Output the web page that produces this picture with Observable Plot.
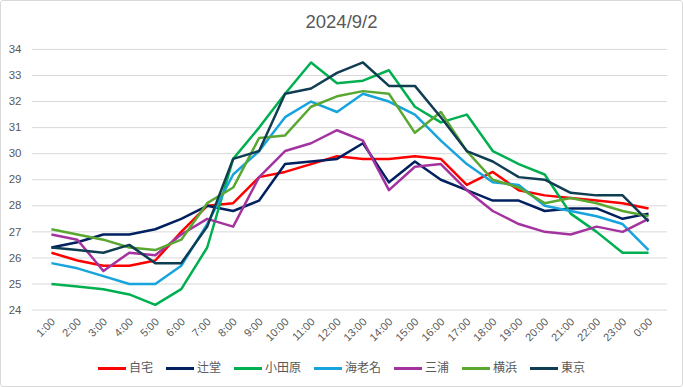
<!DOCTYPE html>
<html><head><meta charset="utf-8">
<script src="https://cdn.jsdelivr.net/npm/d3@7"></script>
<script src="https://cdn.jsdelivr.net/npm/@observablehq/plot@0.6"></script>
<style>
body{margin:0;background:#fff;}
#chart{position:relative;width:683px;height:387px;box-sizing:border-box;border:1px solid #d9d9d9;border-radius:3px;overflow:hidden;font-family:"Liberation Sans","Noto Sans CJK JP",sans-serif;background:#fff;}
#title{position:absolute;left:0;right:0;top:12px;text-align:center;font-size:18.5px;line-height:1;color:#595959;}
#plot{position:absolute;left:-1px;top:-1px;}
#legend{position:absolute;left:0;right:0;top:360px;display:flex;justify-content:center;gap:13px;font-size:12px;line-height:14px;color:#595959;}
.item{display:flex;align-items:center;gap:3px;}
.sw{width:28px;height:3px;}
</style>
</head><body>
<div id="chart"><div id="plot"></div><div id="title">2024/9/2</div><div id="legend"></div></div>
<script>
const hours = ["1:00","2:00","3:00","4:00","5:00","6:00","7:00","8:00","9:00","10:00","11:00","12:00","13:00","14:00","15:00","16:00","17:00","18:00","19:00","20:00","21:00","22:00","23:00","0:00"];
const seriesNames = ["自宅","辻堂","小田原","海老名","三浦","横浜","東京"];
const colors = ["#FF0000","#002060","#00B050","#17A3DC","#A3339F","#5AA832","#0F3D52"];
const jitaku  = [26.2,25.9,25.7,25.7,25.9,27.0,28.0,28.1,29.1,29.3,29.6,29.9,29.8,29.8,29.9,29.8,28.8,29.3,28.6,28.4,28.3,28.2,28.1,27.9];
const tsujido = [26.4,26.6,26.9,26.9,27.1,27.5,28.0,27.8,28.2,29.6,29.7,29.8,30.4,28.9,29.7,29.0,28.6,28.2,28.2,27.8,27.9,27.9,27.5,27.7];
const odawara = [25.0,24.9,24.8,24.6,24.2,24.8,26.4,29.8,31.0,32.3,33.5,32.7,32.8,33.2,31.8,31.2,31.5,30.1,29.6,29.2,27.7,27.0,26.2,26.2];
const ebina   = [25.8,25.6,25.3,25.0,25.0,25.7,27.3,29.2,30.1,31.4,32.0,31.6,32.3,32.0,31.5,30.5,29.6,28.9,28.8,28.0,27.8,27.6,27.3,26.3];
const miura   = [26.9,26.7,25.5,26.2,26.1,26.9,27.5,27.2,29.1,30.1,30.4,30.9,30.5,28.6,29.5,29.6,28.6,27.8,27.3,27.0,26.9,27.2,27.0,27.5];
const yokohama= [27.1,26.9,26.7,26.4,26.3,26.7,28.1,28.7,30.6,30.7,31.8,32.2,32.4,32.3,30.8,31.6,30.1,29.0,28.7,28.1,28.3,28.1,27.8,27.6];
const tokyo   = [26.4,26.3,26.2,26.5,25.8,25.8,27.2,29.8,30.1,32.3,32.5,33.1,33.5,32.6,32.6,31.4,30.1,29.7,29.1,29.0,28.5,28.4,28.4,27.4];
const yTicks = [24,25,26,27,28,29,30,31,32,33,34];

const seriesValues = [jitaku,tsujido,odawara,ebina,miura,yokohama,tokyo];
const rows = [];
seriesNames.forEach((s,si)=>seriesValues[si].forEach((v,i)=>rows.push({series:s,hour:hours[i],value:v})));

const font = '"Liberation Sans","Noto Sans CJK JP",sans-serif';
const chart = Plot.plot({
  width:683, height:350,
  marginTop:49, marginBottom:40, marginLeft:32, marginRight:15,
  style:{fontFamily:font, fontSize:"11px", color:"#595959", background:"transparent", overflow:"visible"},
  x:{type:"point", domain:hours, padding:0.5, label:null},
  y:{domain:[24,34], label:null},
  color:{domain:seriesNames, range:colors},
  marks:[
    Plot.gridY(yTicks, {stroke:"#d9d9d9", strokeOpacity:1, strokeWidth:1}),
    Plot.axisY(yTicks, {tickSize:0, tickPadding:11, fontSize:11.5, color:"#595959", label:null}),
    Plot.axisX(hours, {tickSize:0, tickRotate:-45, tickPadding:10, dx:2, fontSize:11, color:"#595959", label:null}),
    Plot.line(rows, {x:"hour", y:"value", z:"series", stroke:"series", strokeWidth:2.5, strokeLinejoin:"round", strokeLinecap:"butt"})
  ]
});
document.getElementById("plot").appendChild(chart);

const legend = document.getElementById("legend");
seriesNames.forEach((s,i)=>{
  const it = document.createElement("div"); it.className="item";
  const sw = document.createElement("div"); sw.className="sw"; sw.style.background=colors[i];
  const t = document.createElement("span"); t.textContent=s;
  it.appendChild(sw); it.appendChild(t); legend.appendChild(it);
});
</script>
</body></html>
